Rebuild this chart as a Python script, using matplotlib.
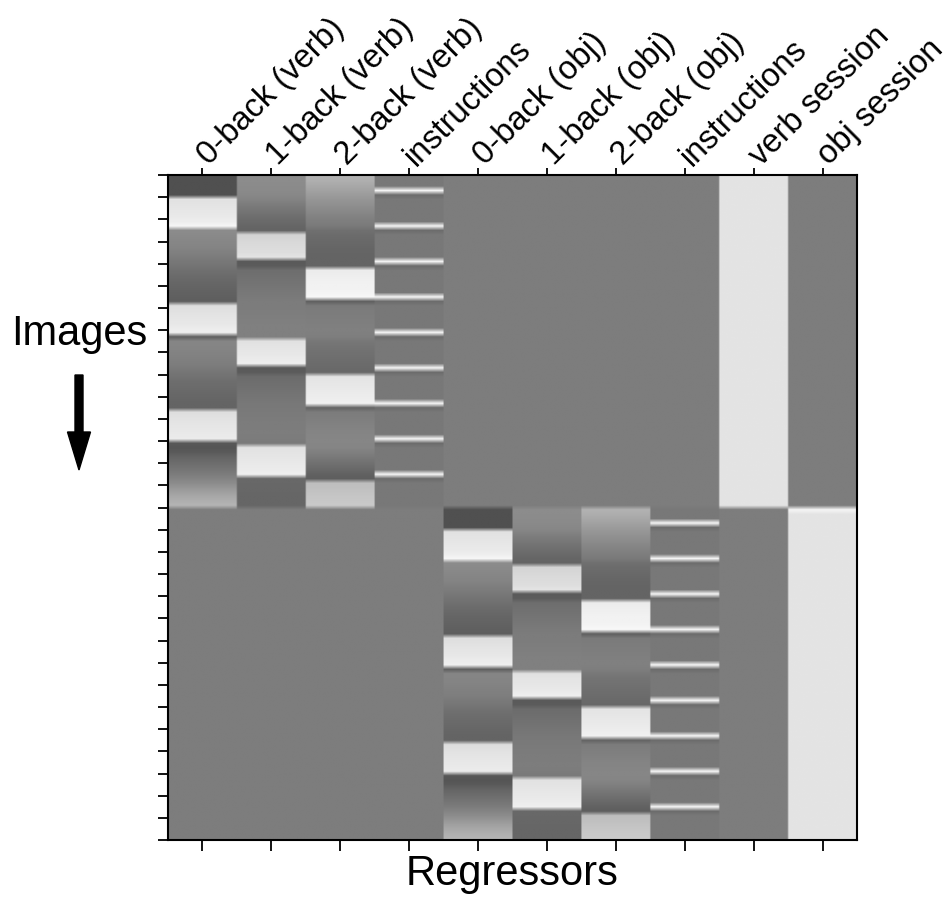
import numpy as np
import matplotlib.pyplot as plt
from matplotlib.patches import FancyArrow
from matplotlib.transforms import ScaledTranslation

plt.rcParams["font.family"] = ["Liberation Sans", "DejaVu Sans"]

regressors = ["0-back (verb)", "1-back (verb)", "2-back (verb)", "instructions",
              "0-back (obj)", "1-back (obj)", "2-back (obj)", "instructions",
              "verb session", "obj session"]

# gray level (0-255) of each display row within one session
zero_back = [80, 80, 80, 80, 80,
             226, 228, 230, 232, 234, 238, 246,
             140, 138, 136, 134, 132, 128, 124, 120,
             116, 112, 108, 105, 102, 100, 98, 96, 94,
             222, 225, 228, 230, 232, 236, 240,
             96,
             134, 133, 132, 130, 128, 126, 122, 118,
             114, 110, 108, 106, 104, 102, 100, 100,
             222, 225, 228, 230, 232, 234, 236,
             88, 85, 90,
             100, 106, 112, 118, 124, 132, 140, 150, 160, 168, 175, 180]
one_back = [140, 140, 139, 138, 136, 132,
            125, 120, 115, 110, 106, 102, 100,
            212, 215, 218, 220, 222, 228,
            90, 92,
            110, 112, 114, 116, 118, 120, 122, 124,
            124, 125, 126, 127, 128, 128, 128, 128,
            225, 228, 230, 232, 235, 240,
            90, 92,
            108, 110, 112, 114, 116, 118, 120, 121, 122, 123, 124, 124, 125, 125, 124, 122,
            226, 228, 230, 232, 234, 236, 240,
            104, 104, 103, 103, 102, 102, 102]
two_back = [178, 174, 168, 162, 156,
            150, 145, 140, 135, 130, 126, 122,
            112, 108, 106, 104, 102, 101, 100, 100, 100,
            236, 238, 240, 242, 242, 244, 248,
            96,
            122, 124, 125, 126, 127, 128, 128, 126,
            120, 116, 114, 112, 110, 108, 106, 104,
            228, 230, 232, 234, 236, 238, 242,
            100,
            124, 126, 128, 130, 132, 133, 134, 134, 133,
            128, 122, 116, 110, 104, 98, 94,
            190, 192, 195, 198, 200, 202]
instr_onsets = [3, 11, 19, 27, 35, 43, 51, 59, 67]
instr_base, instr_on, instr_after = 120, 245, 108
background = 125
session_on = 228

n_rows = len(zero_back)

instr = np.full(n_rows, instr_base)
for r in instr_onsets:
    instr[r] = instr_on
    instr[r + 1] = instr_after

block = np.column_stack([zero_back, one_back, two_back, instr])

dm = np.full((2 * n_rows, len(regressors)), background)
dm[:n_rows, 0:4] = block
dm[n_rows:, 4:8] = block
dm[:n_rows, 8] = session_on
dm[n_rows:, 9] = session_on
dm[n_rows, 9] = 245

fig = plt.figure(figsize=(9.52, 8.98), dpi=100)
ax = fig.add_axes([168 / 952, 1 - 840 / 898, 689 / 952, 665 / 898])

ax.imshow(np.repeat(dm, 40, axis=1), cmap="gray", vmin=0, vmax=255,
          aspect="auto", interpolation="bilinear",
          extent=(-0.5, len(regressors) - 0.5, 2 * n_rows, 0))

ax.set_xticks(range(len(regressors)))
ax.set_xticklabels(regressors, rotation=45, ha="left", va="baseline",
                   rotation_mode="anchor", fontsize=23.5)
ax.tick_params(axis="x", top=True, bottom=True, labeltop=True, labelbottom=False,
               direction="out", length=8, width=1.3, pad=1)
for t in ax.xaxis.get_major_ticks():
    t.tick2line.set_markersize(5)
# nudge the slanted labels so they start just right of / above each tick
shift = ScaledTranslation(7 / 100, -4 / 100, fig.dpi_scale_trans)
for t in ax.xaxis.get_major_ticks():
    t.label2.set_transform(t.label2.get_transform() + shift)

ax.set_yticks(np.arange(0, 2 * n_rows + 1, 5))
ax.set_yticklabels([])
ax.tick_params(axis="y", left=True, right=False, direction="out", length=7, width=1.3)
for s in ax.spines.values():
    s.set_linewidth(1.5)

ax.set_xlabel("Regressors", fontsize=30, labelpad=2)

fig.text(79 / 952, 1 - 345 / 898, "Images", fontsize=30, ha="center", va="baseline")
fig.add_artist(FancyArrow(0.79, 5.23, 0, -0.95, width=0.08, head_width=0.23,
                          head_length=0.38, length_includes_head=True,
                          color="black", transform=fig.dpi_scale_trans))

fig.savefig("out.png", dpi=100)
